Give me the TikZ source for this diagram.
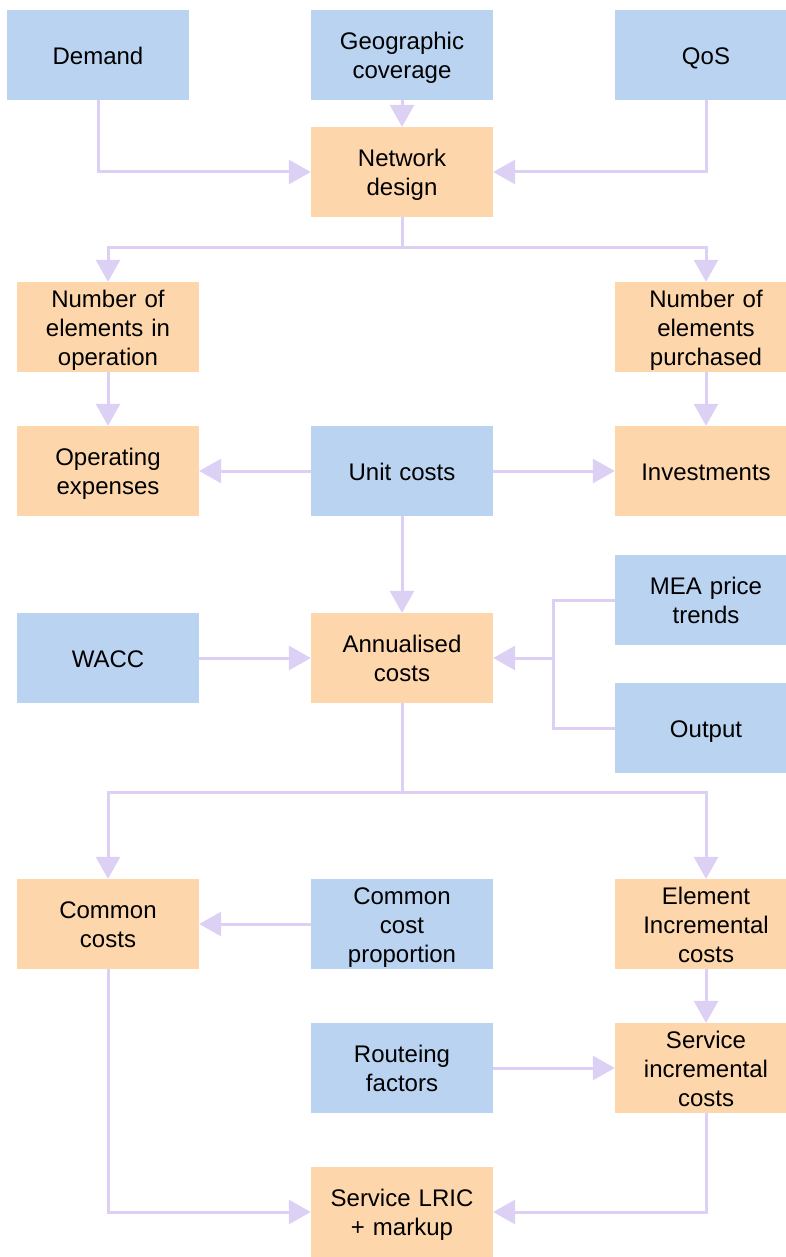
\documentclass[tikz,border=0pt]{standalone}
\usepackage{fontspec}
\setmainfont{Liberation Sans}
\usetikzlibrary{arrows.meta}
\definecolor{inblue}{HTML}{B9D3F1}
\definecolor{calcorange}{HTML}{FDD6AC}
\definecolor{linklav}{HTML}{DCD0F4}
\tikzset{
  box/.style={text width=182pt, minimum height=90pt, inner sep=0pt, align=center,
    font=\fontsize{24}{29}\selectfont,
    execute at begin node={\rule{0pt}{25pt}},
    execute at end node={\rule[-6.8pt]{0pt}{6.8pt}}},
  inbox/.style={box, fill=inblue},
  calcbox/.style={box, fill=calcorange},
  link/.style={draw=linklav, line width=3pt, -{Triangle[length=22pt,width=24pt]}},
  plain/.style={draw=linklav, line width=3pt}
}

\begin{document}
\begin{tikzpicture}[x=1pt, y=-1pt]
  \useasboundingbox (0,0) rectangle (786,1257);
  % inputs
  \node[inbox] (demand) at (98,55) {Demand};
  \node[inbox] (geo) at (402,55) {Geographic\\coverage};
  \node[inbox] (qos) at (706,55) {QoS};
  \node[calcbox] (netdesign) at (402,172) {Network\\design};
  \node[calcbox] (numop) at (108,327) {Number of\\elements in\\operation};
  \node[calcbox] (numpur) at (706,327) {Number of\\elements\\purchased};
  \node[calcbox] (opex) at (108,471) {Operating\\expenses};
  \node[inbox] (unit) at (402,471) {Unit costs};
  \node[calcbox] (invest) at (706,471) {Investments};
  \node[inbox] (mea) at (706,600) {MEA price\\trends};
  \node[inbox] (wacc) at (108,658) {WACC};
  \node[calcbox] (annual) at (402,658) {Annualised\\costs};
  \node[inbox] (output) at (706,728) {Output};
  \node[calcbox] (common) at (108,924) {Common\\costs};
  \node[inbox] (ccprop) at (402,924) {Common\\cost\\proportion};
  \node[calcbox] (elinc) at (706,924) {Element\\Incremental\\costs};
  \node[inbox] (routeing) at (402,1068) {Routeing\\factors};
  \node[calcbox] (servinc) at (706,1068) {Service\\incremental\\costs};
  \node[calcbox] (lric) at (402,1212) {Service LRIC\\+ markup};

  % network design
  \draw[link] (demand.south) |- (netdesign.west);
  \draw[link] (geo) -- (netdesign);
  \draw[link] (qos.south) |- (netdesign.east);
  \coordinate (split1) at (402,248);
  \draw[plain] (netdesign.south) -- (split1);
  \draw[link] (split1) -| (numop.north);
  \draw[link] (split1) -| (numpur.north);
  \draw[link] (numop) -- (opex);
  \draw[link] (numpur) -- (invest);
  \draw[link] (unit) -- (opex);
  \draw[link] (unit) -- (invest);
  \draw[link] (unit) -- (annual);
  \draw[link] (wacc) -- (annual);

  % price trends and output
  \coordinate (join) at (553,658);
  \draw[plain] (mea.west) -| (join) |- (output.west);
  \draw[link] (join) -- (annual.east);

  % annualised costs
  \coordinate (split2) at (402,792);
  \draw[plain] (annual.south) -- (split2);
  \draw[link] (split2) -| (common.north);
  \draw[link] (split2) -| (elinc.north);
  \draw[link] (ccprop) -- (common);
  \draw[link] (elinc) -- (servinc);
  \draw[link] (routeing) -- (servinc);
  \draw[link] (common.south) |- (lric.west);
  \draw[link] (servinc.south) |- (lric.east);
\end{tikzpicture}
\end{document}
